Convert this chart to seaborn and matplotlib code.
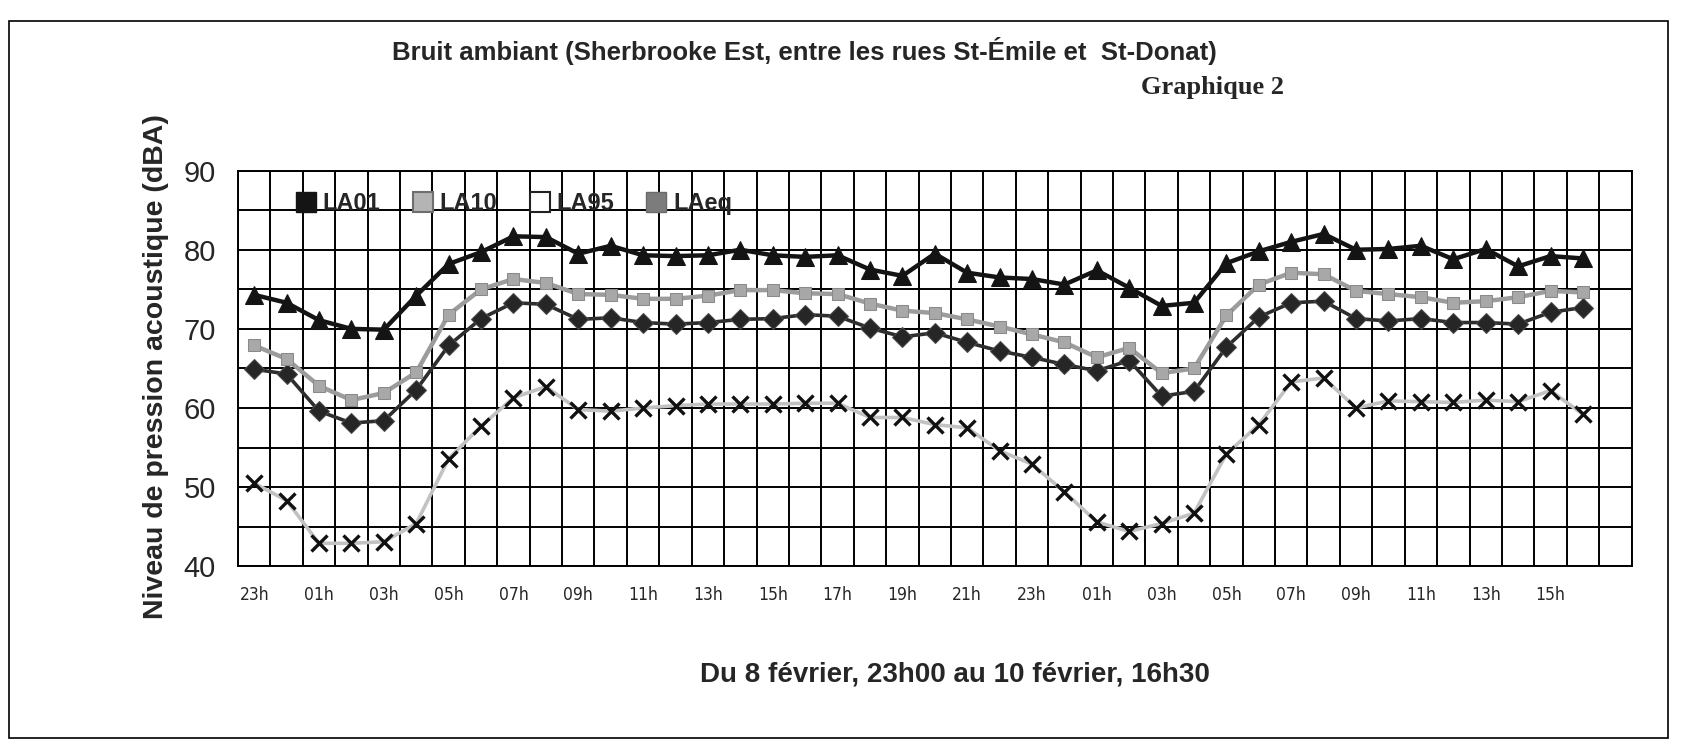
import numpy as np
import pandas as pd
import matplotlib
matplotlib.use("Agg")
import matplotlib.pyplot as plt
from matplotlib import font_manager as fm
from matplotlib.lines import Line2D
from matplotlib.patches import Rectangle
import seaborn as sns

# hourly readings, 8 feb 23h -> 10 feb 16h
hours = ["23h", "00h", "01h", "02h", "03h", "04h", "05h", "06h", "07h", "08h",
         "09h", "10h", "11h", "12h", "13h", "14h", "15h", "16h", "17h", "18h",
         "19h", "20h", "21h", "22h", "23h", "00h", "01h", "02h", "03h", "04h",
         "05h", "06h", "07h", "08h", "09h", "10h", "11h", "12h", "13h", "14h",
         "15h", "16h"]

la01 = [74.3, 73.3, 71.1, 70.0, 69.9, 74.2, 78.2, 79.7, 81.7, 81.6,
        79.5, 80.5, 79.3, 79.2, 79.3, 80.0, 79.3, 79.1, 79.3, 77.5,
        76.7, 79.5, 77.1, 76.5, 76.3, 75.6, 77.4, 75.2, 72.9, 73.3,
        78.3, 79.8, 81.0, 82.0, 80.0, 80.1, 80.5, 78.8, 80.1, 77.9,
        79.2, 78.9]
la10 = [67.9, 66.2, 62.8, 61.0, 61.9, 64.5, 71.8, 75.0, 76.3, 75.8,
        74.4, 74.3, 73.8, 73.8, 74.2, 74.9, 74.9, 74.5, 74.4, 73.2,
        72.3, 72.0, 71.2, 70.3, 69.3, 68.3, 66.4, 67.6, 64.4, 65.0,
        71.7, 75.6, 77.1, 76.9, 74.8, 74.4, 74.0, 73.3, 73.5, 74.0,
        74.8, 74.6]
la95 = [50.5, 48.3, 42.9, 42.9, 43.1, 45.4, 53.6, 57.7, 61.3, 62.7,
        59.8, 59.6, 60.0, 60.3, 60.5, 60.5, 60.5, 60.6, 60.6, 58.8,
        58.8, 57.9, 57.5, 54.6, 52.9, 49.4, 45.6, 44.4, 45.4, 46.7,
        54.2, 57.9, 63.3, 63.8, 60.0, 60.9, 60.8, 60.7, 61.0, 60.8,
        62.2, 59.2]
laeq = [64.9, 64.3, 59.6, 58.1, 58.4, 62.3, 67.9, 71.3, 73.3, 73.1,
        71.2, 71.4, 70.8, 70.6, 70.8, 71.2, 71.3, 71.8, 71.6, 70.1,
        69.0, 69.5, 68.3, 67.2, 66.4, 65.5, 64.7, 66.0, 61.5, 62.1,
        67.7, 71.5, 73.3, 73.5, 71.3, 71.0, 71.3, 70.8, 70.8, 70.6,
        72.1, 72.7]

df = pd.DataFrame({"idx": np.arange(len(hours)), "heure": hours,
                   "LA01": la01, "LA10": la10, "LA95": la95, "LAeq": laeq})

sns.set_style("white")
plt.rcParams["font.family"] = ["Liberation Sans", "DejaVu Sans"]

installed = {f.name for f in fm.fontManager.ttflist}
narrow = "Liberation Sans Narrow" if "Liberation Sans Narrow" in installed else "DejaVu Sans"

fig = plt.figure(figsize=(16.82, 7.55), dpi=100)
ax = fig.add_axes([0.1415, 0.250, 0.8285, 0.524])

# grid: one vertical line between every hour, horizontal every 5 dBA
ax.set_xlim(-0.5, len(hours) + 0.5)
ax.set_ylim(40, 90)
ax.set_xticks(np.arange(-0.5, len(hours) + 1, 1), minor=True)
ax.set_xticks(np.arange(0, len(hours), 2))
ax.set_xticklabels(hours[::2])
ax.set_yticks(np.arange(40, 91, 10))
ax.set_yticks(np.arange(45, 90, 10), minor=True)
ax.grid(True, axis="x", which="minor", color="black", lw=1.4)
ax.grid(True, axis="y", which="both", color="black", lw=1.4)
ax.set_axisbelow(True)

sns.lineplot(data=df, x="idx", y="LA95", ax=ax, color="#c2c2c2", lw=2.6,
             marker="x", markersize=12, markeredgewidth=2.4,
             markeredgecolor="#111111", zorder=3)
sns.lineplot(data=df, x="idx", y="LAeq", ax=ax, color="#2e2e2e", lw=2.6,
             marker="D", markersize=10, markerfacecolor="#262626",
             markeredgecolor="#4a4a4a", zorder=4)
sns.lineplot(data=df, x="idx", y="LA10", ax=ax, color="#9c9c9c", lw=3.2,
             marker="s", markersize=8, markerfacecolor="#a8a8a8",
             markeredgecolor="#8a8a8a", zorder=5)
sns.lineplot(data=df, x="idx", y="LA01", ax=ax, color="#141414", lw=3.2,
             marker="^", markersize=13, markerfacecolor="#141414",
             markeredgecolor="#141414", zorder=6)

ax.set_xlabel("")
ax.set_ylabel("")
for s in ax.spines.values():
    s.set_color("black")
    s.set_linewidth(1.4)

ax.tick_params(axis="y", which="major", labelsize=21, length=6, width=1.4,
               color="black", direction="out", pad=10)
ax.tick_params(axis="y", which="minor", length=0)
ax.tick_params(axis="x", which="major", length=0, pad=14)
ax.tick_params(axis="x", which="minor", length=6, width=1.4, color="black",
               direction="out")
for lab in ax.get_xticklabels():
    lab.set_family([narrow, "Liberation Sans"])
    if narrow == "DejaVu Sans":
        lab.set_stretch("condensed")
    lab.set_fontsize(12.5)

handles = [
    Line2D([], [], ls="none", marker="s", ms=14, mfc="#141414", mec="#141414"),
    Line2D([], [], ls="none", marker="s", ms=14, mfc="#b4b4b4", mec="#6e6e6e", mew=1.5),
    Line2D([], [], ls="none", marker="s", ms=14, mfc="white", mec="#222222", mew=1.5),
    Line2D([], [], ls="none", marker="s", ms=14, mfc="#7c7c7c", mec="#6a6a6a"),
]
leg = ax.legend(handles, ["LA01", "LA10", "LA95", "LAeq"], ncol=4,
                loc="upper left", bbox_to_anchor=(0.026, 1.0), frameon=False,
                handlelength=0.9, handletextpad=0.25, columnspacing=1.35,
                prop={"weight": "bold", "size": 17})

fig.text(0.478, 0.933, "Bruit ambiant (Sherbrooke Est, entre les rues St-Émile et  St-Donat)",
         ha="center", va="center", fontsize=18.5, fontweight="bold")
fig.text(0.7206, 0.884, "Graphique 2", ha="center", va="center", fontsize=19,
         fontweight="bold", family=["Liberation Serif", "DejaVu Serif"])
fig.text(0.093, 0.515, "Niveau de pression acoustique (dBA)", ha="center",
         va="center", rotation=90, fontsize=20.5, fontweight="bold")
fig.text(0.5678, 0.107, "Du 8 février, 23h00 au 10 février, 16h30", ha="center",
         va="center", fontsize=20, fontweight="bold")

fig.patches.append(Rectangle((0.0055, 0.022), 0.986, 0.95, transform=fig.transFigure,
                             fill=False, ec="black", lw=1.2))

fig.savefig("out.png", dpi=100, facecolor="white")
